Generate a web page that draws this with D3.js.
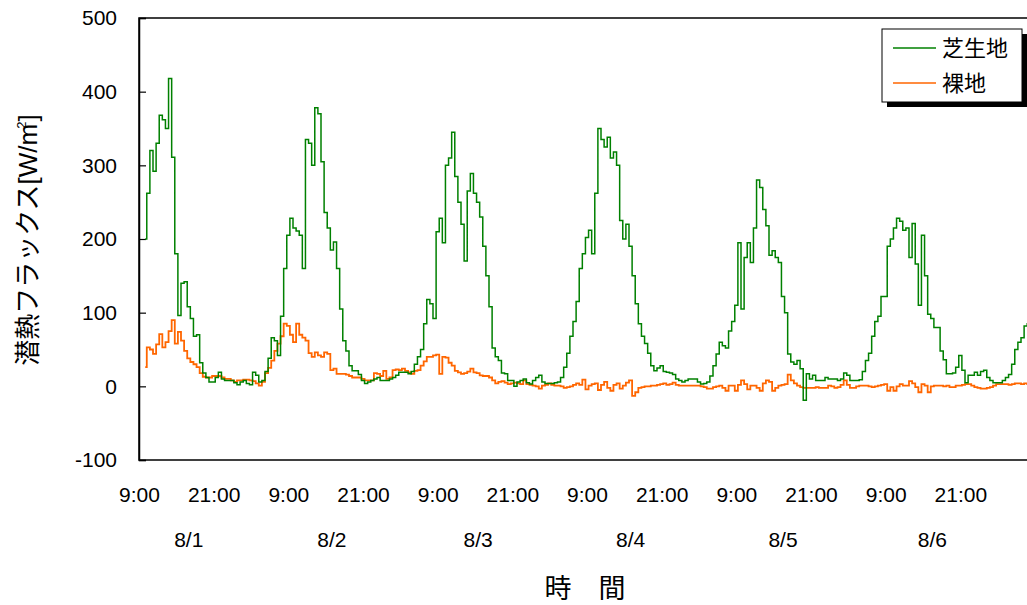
<!DOCTYPE html>
<html>
<head>
<meta charset="utf-8">
<script src="https://cdn.jsdelivr.net/npm/d3@7"></script>
<style>
  html, body { margin: 0; padding: 0; background: #fff; }
  svg { display: block; }
</style>
</head>
<body>
<svg id="chart" width="1027" height="605"></svg>
<script>
// Latent heat flux, half-hourly samples starting 8/1 10:00 (hours after 8/1 9:00)
const startHour = 1.0;
const stepHours = 0.5;

// 芝生地 (lawn)
const lawnFlux = [
  200, 262, 320, 292, 330, 368, 362, 350, 418, 311,
  180, 96, 140, 142, 108, 92, 68, 70, 32, 18,
  12, 6, 6, 12, 19, 10, 8, 8, 8, 5,
  2, 6, 8, 4, 2, 19, 15, 6, 8, 20,
  38, 66, 62, 42, 95, 160, 205, 228, 215, 211,
  205, 160, 335, 330, 300, 378, 370, 305, 236, 215,
  185, 196, 160, 105, 62, 48, 28, 21, 21, 16,
  8, 4, 6, 8, 10, 12, 8, 8, 8, 10,
  12, 15, 19, 19, 19, 17, 20, 30, 40, 50,
  85, 118, 112, 92, 210, 228, 195, 300, 310, 345,
  285, 250, 220, 170, 265, 289, 262, 250, 230, 190,
  150, 108, 52, 40, 35, 18, 17, 8, 8, 0,
  6, 8, 10, 5, 3, 8, 12, 15, 6, 4,
  4, 4, 5, 6, 12, 26, 45, 68, 88, 115,
  160, 180, 202, 212, 180, 262, 350, 335, 325, 338,
  310, 318, 300, 225, 200, 220, 190, 150, 112, 85,
  68, 58, 45, 28, 21, 25, 28, 20, 19, 18,
  16, 10, 8, 6, 8, 10, 10, 10, 6, 3,
  4, 6, 14, 28, 44, 60, 55, 52, 75, 88,
  110, 195, 105, 175, 195, 168, 215, 280, 270, 240,
  218, 178, 184, 175, 168, 122, 100, 44, 33, 30,
  35, 24, -19, 17, 10, 15, 8, 8, 8, 12,
  10, 10, 10, 8, 10, 18, 15, 8, 8, 8,
  9, 20, 35, 45, 68, 88, 95, 122, 122, 190,
  200, 215, 228, 224, 212, 215, 175, 221, 166, 110,
  205, 150, 98, 92, 80, 80, 48, 36, 17, 17,
  18, 26, 42, 22, 5, 15, 15, 19, 15, 20,
  22, 12, 8, 5, 5, 5, 8, 12, 16, 30,
  50, 60, 66, 82, 85
];

// 裸地 (bare soil)
const bareFlux = [
  26, 53, 50, 44, 57, 71, 53, 60, 75, 90,
  58, 74, 62, 48, 38, 33, 30, 26, 18, 13,
  12, 12, 14, 14, 14, 12, 10, 10, 8, 6,
  8, 8, 9, 9, 8, 7, 4, 1, 6, 18,
  25, 35, 48, 58, 68, 85, 82, 70, 60, 85,
  70, 66, 62, 45, 40, 46, 42, 40, 46, 44,
  22, 24, 17, 17, 17, 16, 14, 12, 12, 12,
  10, 8, 8, 8, 18, 17, 14, 21, 10, 12,
  22, 23, 22, 24, 21, 19, 17, 21, 22, 28,
  34, 40, 40, 42, 43, 17, 40, 39, 32, 28,
  21, 19, 17, 18, 20, 24, 19, 18, 15, 14,
  14, 12, 8, 4, 6, 7, 5, 3, 4, 5,
  4, 3, 8, 3, 2, 1, 0, -3, 1, 2,
  4, 2, 1, 1, 0, -2, -1, 0, 2, 4,
  2, 9, -4, 1, 3, 4, -5, 2, 6, -2,
  -6, 2, 4, -3, 1, 5, 8, -13, -8, -2,
  -1, 0, 0, 1, 1, 2, 3, 4, 2, 3,
  5, 2, 1, 1, 1, 1, 1, 1, 1, 0,
  -1, -3, -3, -1, 0, 1, -2, -6, 1, 1,
  -6, 2, 8, 3, -4, 1, 1, -2, -6, 4,
  8, 6, -6, -2, 1, 2, 3, 16, 8, 4,
  1, -1, -2, -2, -2, -2, -1, -2, -2, -2,
  1, 0, -2, -1, 2, 8, 2, -2, -2, 0,
  1, 1, 1, 0, -1, 0, 1, 2, 3, -6,
  -1, -6, 0, 3, 1, 1, 7, 4, -1, -8,
  3, 1, -8, 0, 1, 1, 1, 0, 1, -1,
  -1, 1, 1, 2, 3, 3, 1, -1, -2, -3,
  -3, -2, -1, 1, 3, 3, 3, 3, 2, 3,
  4, 4, 3, 4, 3
];

const seriesNames = ["芝生地", "裸地"];
const seriesColors = ["#008000", "#ff6600"];

// time-of-day tick labels every 12 h
const timeTickHours = [0, 12, 24, 36, 48, 60, 72, 84, 96, 108, 120, 132];
const timeTickLabels = ["9:00", "21:00", "9:00", "21:00", "9:00", "21:00",
                        "9:00", "21:00", "9:00", "21:00", "9:00", "21:00"];
// date labels
const dateHours = [8, 31, 54.5, 79, 103.5, 127.5];
const dateLabels = ["8/1", "8/2", "8/3", "8/4", "8/5", "8/6"];

const yTicks = [-100, 0, 100, 200, 300, 400, 500];

const svg = d3.select("#chart");
const plot = { left: 139, top: 18, right: 1035, bottom: 460 };

const x = d3.scaleLinear().domain([0, 144]).range([plot.left, plot.right]);
const y = d3.scaleLinear().domain([-100, 500]).range([plot.bottom, plot.top]);

const latinFont = "'Liberation Sans', Arial, sans-serif";
const cjkFont = "'Liberation Sans', 'Noto Sans CJK JP', sans-serif";

// plot frame
svg.append("rect")
  .attr("x", plot.left).attr("y", plot.top)
  .attr("width", plot.right - plot.left).attr("height", plot.bottom - plot.top)
  .attr("fill", "none").attr("stroke", "#000").attr("stroke-width", 1.5);

// y axis with inward ticks
const yAxis = svg.append("g")
  .attr("transform", `translate(${plot.left},0)`)
  .call(d3.axisLeft(y).tickValues(yTicks).tickSize(-7).tickPadding(22).tickFormat(d => String(d)));
yAxis.select(".domain").attr("stroke", "#000").attr("stroke-width", 1.5);
yAxis.selectAll(".tick line").attr("stroke", "#000").attr("stroke-width", 1.2);
yAxis.selectAll("text").attr("font-family", latinFont).attr("font-size", 21).attr("fill", "#000");

// x axis: time-of-day labels
const xAxis = svg.append("g")
  .attr("transform", `translate(0,${plot.bottom})`)
  .call(d3.axisBottom(x).tickValues(timeTickHours).tickSize(0).tickPadding(27)
    .tickFormat((d, i) => timeTickLabels[i]));
xAxis.select(".domain").remove();
xAxis.selectAll("text").attr("font-family", latinFont).attr("font-size", 21).attr("fill", "#000");

// date labels
svg.append("g").selectAll("text")
  .data(dateLabels)
  .join("text")
  .attr("x", (d, i) => x(dateHours[i]))
  .attr("y", 547)
  .attr("text-anchor", "middle")
  .attr("font-family", latinFont)
  .attr("font-size", 21)
  .text(d => d);

// axis titles
svg.append("text")
  .attr("x", 585).attr("y", 598)
  .attr("text-anchor", "middle")
  .attr("font-family", "'Noto Sans CJK JP', sans-serif")
  .attr("font-size", 27)
  .text("時　間");

const yTitle = svg.append("text")
  .attr("transform", "translate(37,240) rotate(-90)")
  .attr("text-anchor", "middle")
  .attr("font-family", cjkFont)
  .attr("font-size", 26);
yTitle.append("tspan").text("潜熱フラックス[W/m");
yTitle.append("tspan").attr("font-size", 13).attr("dy", -11).attr("dx", -5).text("2");
yTitle.append("tspan").attr("dy", 11).text("]");

// series lines, drawn as steps between samples
const line = d3.line()
  .curve(d3.curveStep)
  .x((d, i) => x(startHour + i * stepHours))
  .y(d => y(d));

svg.append("path")
  .datum(bareFlux)
  .attr("fill", "none")
  .attr("stroke", seriesColors[1])
  .attr("stroke-width", 1.8)
  .attr("d", line);

svg.append("path")
  .datum(lawnFlux)
  .attr("fill", "none")
  .attr("stroke", seriesColors[0])
  .attr("stroke-width", 1.5)
  .attr("d", line);

// legend with drop shadow
const legend = svg.append("g").attr("transform", "translate(882,29)");
legend.append("rect").attr("x", 5).attr("y", 5).attr("width", 140).attr("height", 73).attr("fill", "#000");
legend.append("rect").attr("x", 0).attr("y", 0).attr("width", 140).attr("height", 73)
  .attr("fill", "#fff").attr("stroke", "#000").attr("stroke-width", 1);
seriesNames.forEach((name, i) => {
  const cy = 19 + i * 35;
  legend.append("line")
    .attr("x1", 11).attr("x2", 54).attr("y1", cy).attr("y2", cy)
    .attr("stroke", seriesColors[i]).attr("stroke-width", 1.5);
  legend.append("text")
    .attr("x", 60).attr("y", cy + 7.5)
    .attr("font-family", "'Noto Sans CJK JP', sans-serif")
    .attr("font-size", 22)
    .text(name);
});
</script>
</body>
</html>
